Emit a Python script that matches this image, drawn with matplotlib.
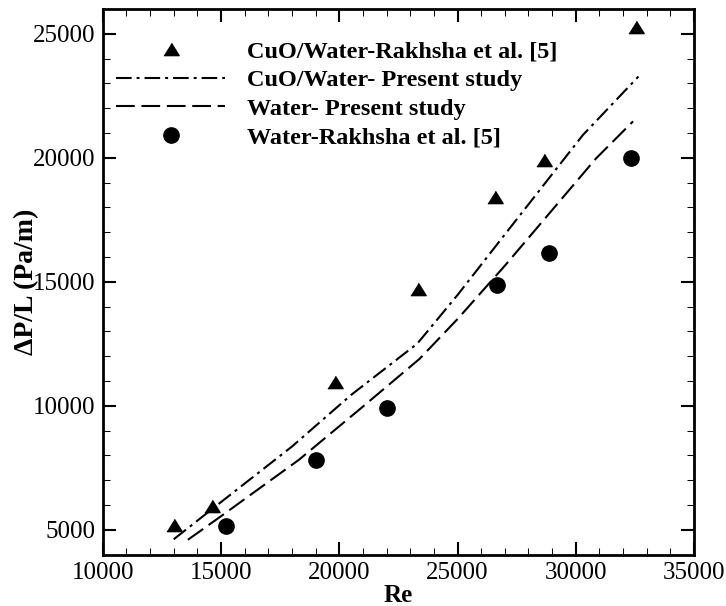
import matplotlib
matplotlib.use('Agg')
from matplotlib import pyplot as plt
from matplotlib.ticker import MultipleLocator

plt.rcParams['font.family'] = ['Liberation Serif', 'DejaVu Serif']

# experimental data (Rakhsha et al. [5])
re_cuo_exp = [13000, 14600, 19800, 23350, 26600, 28650, 32530]
dp_cuo_exp = [5200, 5950, 10950, 14720, 18430, 19910, 25260]
re_water_exp = [15200, 19000, 22000, 26650, 28850, 32350]
dp_water_exp = [5140, 7830, 9900, 14880, 16180, 19980]

# present study
re_cuo_num = [13000, 15000, 18000, 20500, 23300, 25000, 27000, 30300, 32650]
dp_cuo_num = [4620, 6120, 8360, 10440, 12510, 14470, 16910, 20920, 23280]
re_water_num = [13600, 15000, 18300, 21000, 23400, 25000, 27000, 30850, 32420]
dp_water_num = [4600, 5550, 7830, 9970, 11900, 13500, 15650, 19970, 21470]

tri = [(-1, -0.8), (1, -0.8), (0, 0.8)]

fig = plt.figure(figsize=(7.26, 6.06), dpi=100)
ax = fig.add_axes([0.1415, 0.0847, 0.8145, 0.9004])

ax.plot(re_cuo_exp, dp_cuo_exp, linestyle='none', marker=tri, markersize=11,
        color='black', label='CuO/Water-Rakhsha et al. [5]')
ax.plot(re_cuo_num, dp_cuo_num, color='black', linewidth=1.5,
        linestyle=(0, (7.5, 2.4, 1.4, 2.4)), label='CuO/Water- Present study')
ax.plot(re_water_num, dp_water_num, color='black', linewidth=1.5,
        linestyle=(0, (9, 3.2)), label='Water- Present study')
ax.plot(re_water_exp, dp_water_exp, linestyle='none', marker='o', markersize=11,
        color='black', label='Water-Rakhsha et al. [5]')

ax.set_xlim(10000, 35000)
ax.set_ylim(4000, 26000)
ax.xaxis.set_major_locator(MultipleLocator(5000))
ax.xaxis.set_minor_locator(MultipleLocator(1000))
ax.yaxis.set_major_locator(MultipleLocator(5000))
ax.yaxis.set_minor_locator(MultipleLocator(1000))
ax.tick_params(which='both', direction='in', top=True, right=True, labelsize=18)
ax.tick_params(which='major', length=9.5, width=1.5, pad=5)
ax.tick_params(which='minor', length=5, width=0.75)
for s in ax.spines.values():
    s.set_linewidth(2)

ax.set_xlabel('Re', fontsize=18, fontweight='bold', labelpad=0)
ax.set_ylabel('ΔP/L (Pa/m)', fontsize=20, fontweight='bold', labelpad=-4)

ax.legend(loc='upper left', bbox_to_anchor=(0.0225, 0.942), frameon=False,
          prop={'size': 17.5, 'weight': 'bold'}, handlelength=4.5,
          handletextpad=0.9, labelspacing=0.27, borderpad=0, borderaxespad=0)

fig.savefig('out.png', dpi=100)
